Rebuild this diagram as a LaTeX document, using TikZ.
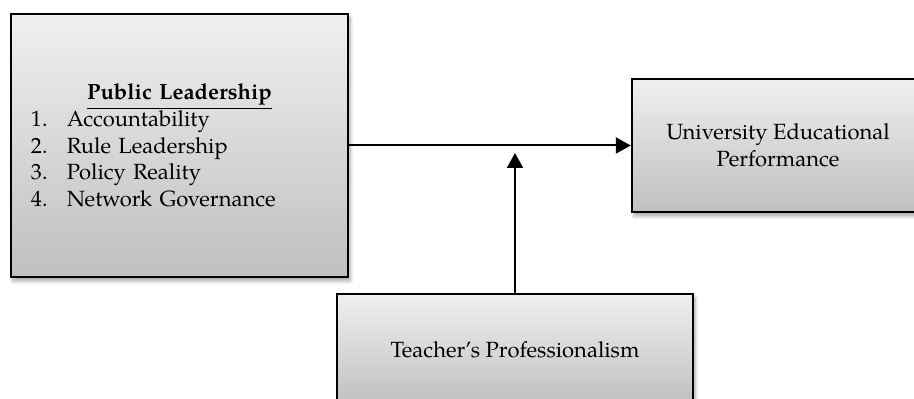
\documentclass[tikz,border=0pt]{standalone}
\usepackage{amsmath}
\usepackage{fontspec}
\setmainfont{TeX Gyre Pagella}
\usetikzlibrary{arrows.meta, shadows.blur}

\begin{document}
\begin{tikzpicture}[x = 0.5pt, y = -0.5pt, line width = 1pt,
                        box/.style = {rectangle, draw, line width = 1.2pt, top color = gray!12, bottom color = gray!50,
                                      inner sep = 0pt, font = \fontsize{11}{13.3}\selectfont,
                                      blur shadow = {shadow xshift = 1pt, shadow yshift = -2pt, shadow blur steps = 6, shadow opacity = 35}},
                        arr/.style = {-{Triangle[width = 8pt, length = 7.5pt]}}]
      \useasboundingbox (0, 0) rectangle (914, 399);
      \node [box, minimum width = 168.5pt, minimum height = 131.5pt, text width = 148.5pt, align = left] (b1) at (179.5, 145.5)
            {\makebox[\linewidth]{\underline{\textbf{Public Leadership}}}\\
             \makebox[18pt][l]{1.}Accountability\\
             \makebox[18pt][l]{2.}Rule Leadership\\
             \makebox[18pt][l]{3.}Policy Reality\\
             \makebox[18pt][l]{4.}Network Governance};
      \node [box, minimum width = 146pt, minimum height = 66.5pt, align = center] (b2) at (778, 145.5){University Educational\\Performance};
      \node [box, minimum width = 178pt, minimum height = 56pt] (b3) at (515, 350){Teacher’s Professionalism};
      \coordinate (m) at (515, 153);
      \draw [arr] (b1) -- (b2);
      \draw [arr] (b3) -- (m);
    \end{tikzpicture}
\end{document}
